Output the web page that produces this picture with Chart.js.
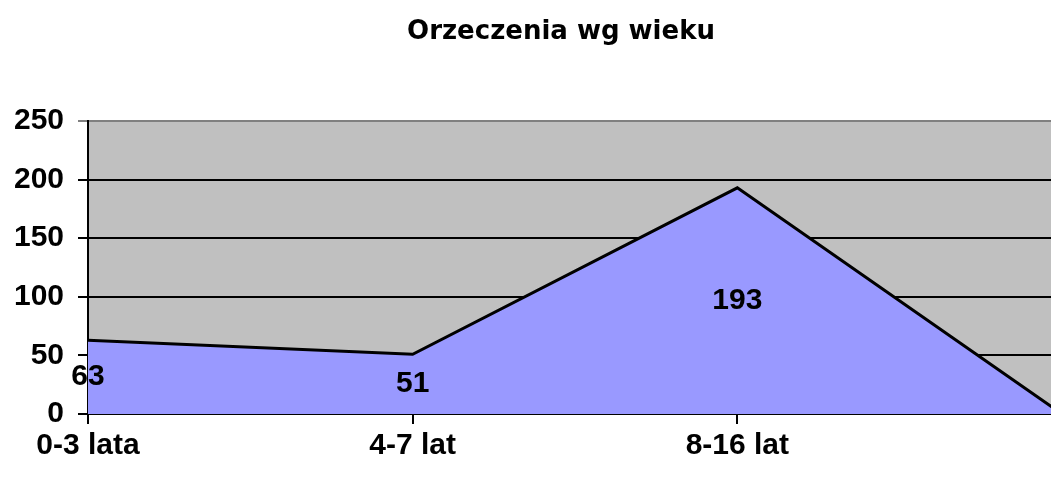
<!DOCTYPE html>
<html lang="pl">
<head>
    <meta charset="UTF-8">
    <title>Orzeczenia wg wieku</title>
    <style>
        html, body { margin: 0; padding: 0; overflow: hidden; background: #fff; }
        #wrap { position: relative; width: 1070px; height: 479px; }
    </style>
</head>
<body>
    <div id="wrap"><canvas id="myChart"></canvas></div>

    <script src="https://cdn.jsdelivr.net/npm/chart.js"></script>
    <script>
        // dane
        const categories = ['0-3 lata', '4-7 lat', '8-16 lat', ''];
        const counts = [63, 51, 193, 0];
        const yTicks = [0, 50, 100, 150, 200, 250];

        const chartTitle = 'Orzeczenia wg wieku';

        // szare tło obszaru wykresu
        const plotBg = {
            id: 'plotBg',
            beforeDraw(chart) {
                const a = chart.chartArea, ctx = chart.ctx;
                ctx.save();
                ctx.fillStyle = '#C0C0C0';
                ctx.fillRect(a.left, a.top, a.right - a.left, a.bottom - a.top);
                ctx.restore();
            }
        };

        // tytuł rysowany ręcznie (wykres jest przycięty z prawej)
        const titlePlugin = {
            id: 'titlePlugin',
            afterDraw(chart) {
                const ctx = chart.ctx;
                ctx.save();
                ctx.font = 'bold 26px "Comic Sans MS", "DejaVu Sans", sans-serif';
                ctx.fillStyle = '#000';
                ctx.textAlign = 'center';
                ctx.textBaseline = 'middle';
                ctx.fillText(chartTitle, 561, 32);
                ctx.restore();
            }
        };

        // etykiety danych w połowie wysokości obszaru (jak w Excelu)
        const valueLabels = {
            id: 'valueLabels',
            afterDatasetsDraw(chart) {
                const ctx = chart.ctx;
                const meta = chart.getDatasetMeta(0);
                const y = chart.scales.y;
                ctx.save();
                ctx.font = 'bold 30px "Liberation Sans", Arial, sans-serif';
                ctx.fillStyle = '#000';
                ctx.textAlign = 'center';
                ctx.textBaseline = 'middle';
                meta.data.forEach((pt, i) => {
                    ctx.fillText(String(counts[i]), pt.x, y.getPixelForValue(counts[i] / 2));
                });
                ctx.restore();
            }
        };

        const data = {
            labels: categories,
            datasets: [{
                label: chartTitle,
                data: counts,
                fill: 'origin',
                backgroundColor: '#9999FF',
                borderColor: '#000000',
                borderWidth: 3,
                pointRadius: 0,
                tension: 0
            }]
        };

        const config = {
            type: 'line',
            data: data,
            options: {
                responsive: true,
                maintainAspectRatio: false,
                animation: false,
                layout: { padding: { top: 121, right: 8, bottom: 0, left: 0 } },
                plugins: {
                    legend: { display: false },
                    title: { display: false },
                    tooltip: { enabled: false }
                },
                scales: {
                    x: {
                        offset: false,
                        grid: {
                            drawOnChartArea: false,
                            drawTicks: true,
                            tickLength: 10,
                            color: '#000',
                            lineWidth: 2
                        },
                        border: { color: '#000', width: 2 },
                        ticks: {
                            color: '#000',
                            padding: 4,
                            maxRotation: 0,
                            autoSkip: false,
                            font: { family: '"Liberation Sans", Arial, sans-serif', size: 30, weight: 'bold' }
                        },
                        afterFit(scale) { scale.height = 65; }
                    },
                    y: {
                        min: 0,
                        max: 250,
                        afterBuildTicks(scale) { scale.ticks = yTicks.map(v => ({ value: v })); },
                        grid: {
                            color: ctx => (ctx.tick && ctx.tick.value === 250 ? '#808080' : '#000'),
                            lineWidth: 2,
                            tickLength: 10
                        },
                        border: { color: '#000', width: 2 },
                        ticks: {
                            color: '#000',
                            padding: 14,
                            font: { family: '"Liberation Sans", Arial, sans-serif', size: 30, weight: 'bold' }
                        },
                        afterFit(scale) { scale.width = 88; }
                    }
                }
            },
            plugins: [plotBg, valueLabels, titlePlugin]
        };

        const ctx = document.getElementById('myChart').getContext('2d');
        new Chart(ctx, config);
    </script>
</body>
</html>
